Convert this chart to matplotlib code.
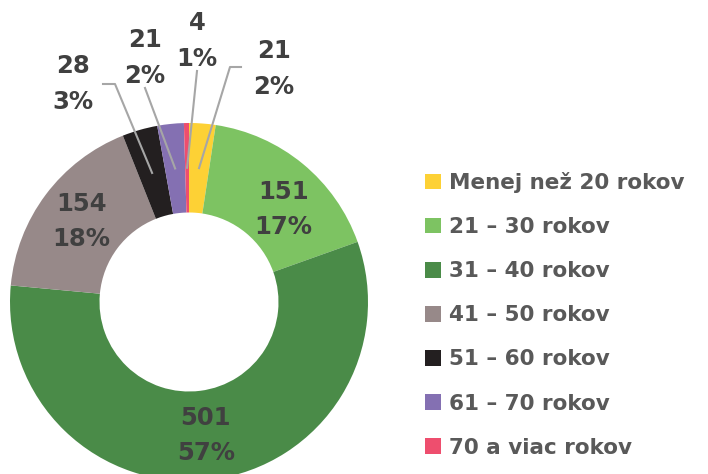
import matplotlib.pyplot as plt
import numpy as np

# Age groups and counts
categories = ["Menej než 20 rokov", "21 – 30 rokov", "31 – 40 rokov", "41 – 50 rokov",
              "51 – 60 rokov", "61 – 70 rokov", "70 a viac rokov"]
counts = [21, 151, 501, 154, 28, 21, 4]
pct_labels = ["2%", "17%", "57%", "18%", "3%", "2%", "1%"]
colors = ["#FDD135", "#7DC362", "#4A8B48", "#978989", "#231F20", "#8470B2", "#EE4E6E"]

# Which slices get an outside label with a leader line (index -> label position in px)
outside = {0: (274, 69), 6: (197, 41), 5: (145, 58), 4: (73, 84)}
elbow = {0: (230, 67, 241), 4: (115, 84, 103)}

W, H = 708, 474
TEXT = "#404040"
plt.rcParams["font.family"] = ["DejaVu Sans"]

fig = plt.figure(figsize=(W / 100, H / 100), dpi=100)
ax = fig.add_axes([0, 0, 1, 1])

cx, cy, R = 189, H - 302, 179
wedges, _ = ax.pie(counts, colors=colors, startangle=90, counterclock=False,
                   center=(cx, cy), radius=R, frame=True,
                   wedgeprops=dict(width=R * 0.5, linewidth=0))
ax.set_xlim(0, W)
ax.set_ylim(0, H)
ax.set_aspect("equal")
ax.axis("off")

# Labels
total = sum(counts)
cum = np.cumsum([0] + counts)
for i, w in enumerate(wedges):
    mid = 90 - (cum[i] + counts[i] / 2) / total * 360
    px = cx + 0.75 * R * np.cos(np.radians(mid))
    py = cy + 0.75 * R * np.sin(np.radians(mid))
    txt = f"{counts[i]}\n{pct_labels[i]}"
    if i in outside:
        lx, ly = outside[i]
        ly = H - ly
        if i in elbow:
            ex, ey, hx = elbow[i]
            ax.plot([px, ex, hx], [py, H - ey, H - ey], color="#A6A6A6", lw=1.5, zorder=3)
        else:
            ax.plot([px, lx], [py, ly - 30], color="#A6A6A6", lw=1.5, zorder=3)
        ax.text(lx, ly, txt, ha="center", va="center", fontsize=17.5, fontweight="bold",
                color=TEXT, linespacing=1.6)
    else:
        if i == 1:
            px, py = px + 9, py - 11
        ax.text(px, py, txt, ha="center", va="center", fontsize=17.5, fontweight="bold",
                color=TEXT, linespacing=1.6)

leg = ax.legend(wedges, categories, loc="upper left", bbox_to_anchor=(425 / W, 1 - 172 / H),
                frameon=False, fontsize=15.5, handlelength=0.75, handleheight=0.75,
                handletextpad=0.35, labelspacing=1.12, borderpad=0, borderaxespad=0)
for t in leg.get_texts():
    t.set_color("#595959")
    t.set_fontweight("bold")

fig.savefig("out.png", dpi=100)
